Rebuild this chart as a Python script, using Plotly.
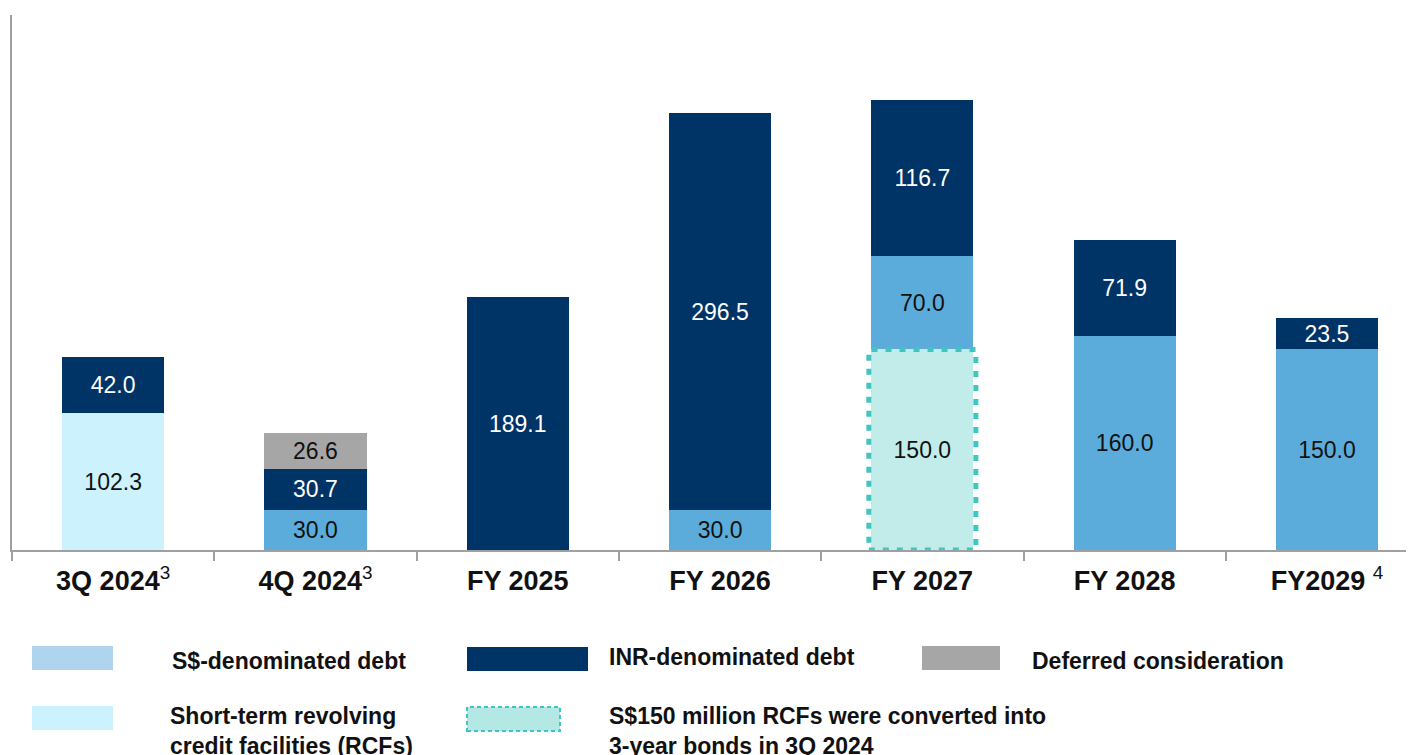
import plotly.graph_objects as go

categories = ["3Q 2024", "4Q 2024", "FY 2025", "FY 2026", "FY 2027", "FY 2028", "FY2029"]
tick_labels = ["<b>3Q 2024</b><sup>3</sup>", "<b>4Q 2024</b><sup>3</sup>", "<b>FY 2025</b>",
               "<b>FY 2026</b>", "<b>FY 2027</b>", "<b>FY 2028</b>", "<b>FY2029</b> <sup>4</sup>"]

rcf = [102.3, None, None, None, None, None, None]
converted = [None, None, None, None, 150.0, None, None]
sgd_debt = [None, 30.0, None, 30.0, 70.0, 160.0, 150.0]
inr_debt = [42.0, 30.7, 189.1, 296.5, 116.7, 71.9, 23.5]
deferred = [None, 26.6, None, None, None, None, None]

NAVY = "#003366"
MID = "#5BACDB"
CYAN = "#CCF2FD"
TEAL_FILL = "#C2ECEA"
TEAL_LINE = "#40C6C2"
GREY = "#A6A6A6"
LEG_SGD = "#AED4EE"
LEG_TEAL = "#B3E8E5"

BAR_W = 0.505
LABEL_SIZE = 23
FONT = "Liberation Sans, Arial, sans-serif"

fig = go.Figure()

def add(vals, color, txtcolor):
    fig.add_trace(go.Bar(
        x=categories, y=vals, width=BAR_W,
        marker=dict(color=color, line=dict(width=0)),
        texttemplate="%{y:.1f}", textposition="inside", insidetextanchor="middle",
        textangle=0, constraintext="none",
        textfont=dict(size=LABEL_SIZE, color=txtcolor, family=FONT),
        hoverinfo="skip", showlegend=False,
    ))

add(rcf, CYAN, "#111111")
add(converted, TEAL_FILL, "#111111")
add(sgd_debt, MID, "#111111")
add(inr_debt, NAVY, "#FFFFFF")
add(deferred, GREY, "#111111")

# dotted outline around converted RCF bar
for i, v in enumerate(converted):
    if v:
        fig.add_shape(type="rect", xref="x", yref="y",
                      x0=i - BAR_W / 2 - 0.012, x1=i + BAR_W / 2 + 0.012,
                      y0=0, y1=v,
                      line=dict(color=TEAL_LINE, width=5, dash="6px,8px"),
                      fillcolor="rgba(0,0,0,0)", layer="above")

# page offset from the html body margin
OFF = 8
PLOT_L, PLOT_T, PW, PH = 12, 15, 1402, 535   # page pixel coords of plot area
L, T = PLOT_L - OFF, PLOT_T - OFF
FIG_W, FIG_H = 1414 - OFF, 755 - OFF

def px(x):
    return (x - PLOT_L) / PW
def py(y):
    return (PLOT_T + PH - y) / PH

legend_items = [
    (32, 113, 646, 670, LEG_SGD, None, 170, 661, "<b>S$-denominated debt</b>"),
    (467, 588, 647, 671, NAVY, None, 607, 657, "<b>INR-denominated debt</b>"),
    (922, 1000, 646, 670, GREY, None, 1030, 661, "<b>Deferred consideration</b>"),
    (32, 113, 706, 730, CYAN, None, 168, 731, "<b>Short-term revolving<br>credit facilities (RCFs)</b>"),
    (467, 560, 707, 731, LEG_TEAL, TEAL_LINE, 607, 731, "<b>S$150 million RCFs were converted into<br>3-year bonds in 3Q 2024</b>"),
]
for x0, x1, y0, y1, col, border, tx, ty, txt in legend_items:
    fig.add_shape(type="rect", xref="paper", yref="paper",
                  x0=px(x0), x1=px(x1), y0=py(y1), y1=py(y0),
                  fillcolor=col,
                  line=dict(color=border, width=2, dash="4px,3px") if border else dict(width=0))
    fig.add_annotation(xref="paper", yref="paper", x=px(tx), y=py(ty),
                       xanchor="left", yanchor="middle", align="left",
                       text=txt, showarrow=False,
                       font=dict(size=23, color="#111111", family=FONT))

fig.update_layout(
    width=FIG_W, height=FIG_H,
    margin=dict(l=L, r=FIG_W - L - PW, t=T, b=FIG_H - T - PH, pad=0),
    barmode="stack", bargap=0.5,
    plot_bgcolor="white", paper_bgcolor="white",
    font=dict(family=FONT, color="#111111"),
    xaxis=dict(type="category", range=[-0.5, -0.5 + PW / 202.3],
               tickvals=categories, ticktext=tick_labels,
               tickson="boundaries", ticks="outside", ticklen=9, tickwidth=2, tickcolor="#A0A0A0",
               showline=True, linecolor="#A0A0A0", linewidth=2,
               showgrid=False, zeroline=False,
               tickfont=dict(size=27, color="#111111", family=FONT),
               ticklabelstandoff=6),
    yaxis=dict(range=[0, 400], showline=True, linecolor="#A0A0A0", linewidth=2,
               showticklabels=False, ticks="", showgrid=False, zeroline=False),
)

fig.write_html("out.html")
